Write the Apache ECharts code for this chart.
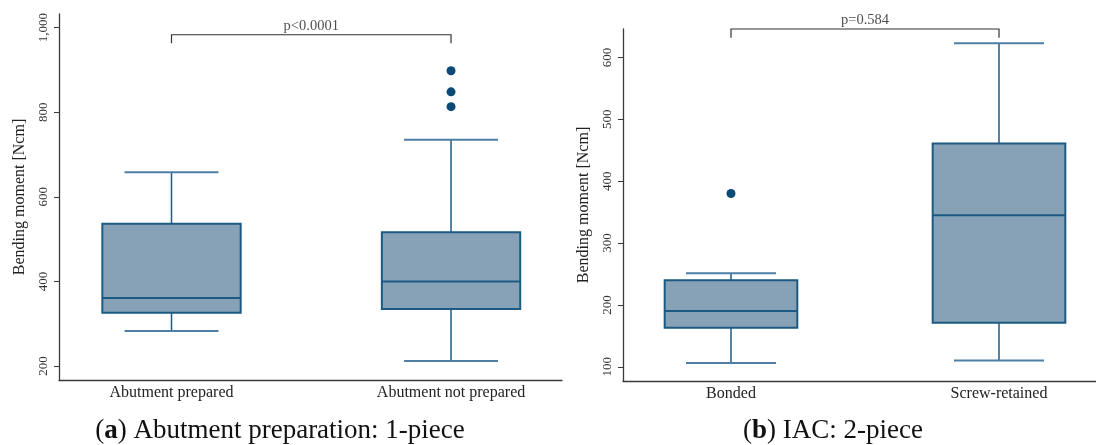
<!DOCTYPE html>
<html>
<head>
<meta charset="utf-8">
<script src="https://cdn.jsdelivr.net/npm/echarts@6/dist/echarts.min.js"></script>
<style>
  html, body { margin: 0; padding: 0; background: #fff; }
  #chart { width: 1096px; height: 445px; }
</style>
</head>
<body>
<div id="chart"></div>
<script>
// ---- data ----
const categoriesA = ['Abutment prepared', 'Abutment not prepared'];
// [min, Q1, median, Q3, max]
const boxA = [
  [283, 326, 361, 536, 658],
  [212, 335, 400, 516, 735]
];
const outliersA = [[1, 898], [1, 848], [1, 813]];
const pValueA = 'p<0.0001';
const yTicksA = [200, 400, 600, 800, 1000];

const categoriesB = ['Bonded', 'Screw-retained'];
const boxB = [
  [106, 163, 190, 240, 251],
  [110, 171, 345, 461, 623]
];
const outliersB = [[0, 380]];
const pValueB = 'p=0.584';
const yTicksB = [100, 200, 300, 400, 500, 600];

const captionA = 'Abutment preparation: 1-piece';
const captionB = 'IAC: 2-piece';
const yName = 'Bending moment [Ncm]';

// ---- styles ----
const FONT = 'Liberation Serif';
const boxFill = '#87a2b6';
const boxLine = '#1d5a83';
const capLine = '#4e7fa6';
const outColor = '#0b4a75';
const axisColor = '#3a3a3a';

function renderBox(params, api) {
  const x = api.value(0);
  const mn = api.value(1), q1 = api.value(2), md = api.value(3), q3 = api.value(4), mx = api.value(5);
  const boxW = api.size([0.495, 0])[0];
  const capW = api.size([0.336, 0])[0];
  const p = v => api.coord([x, v]);
  const cx = p(md)[0];
  const yMin = p(mn)[1], yQ1 = p(q1)[1], yMd = p(md)[1], yQ3 = p(q3)[1], yMax = p(mx)[1];
  return {
    type: 'group',
    children: [
      { type: 'line', shape: { x1: cx, y1: yQ1, x2: cx, y2: yMin }, style: { stroke: boxLine, lineWidth: 1.5 } },
      { type: 'line', shape: { x1: cx, y1: yQ3, x2: cx, y2: yMax }, style: { stroke: boxLine, lineWidth: 1.5 } },
      { type: 'line', shape: { x1: cx - capW / 2, y1: yMin, x2: cx + capW / 2, y2: yMin }, style: { stroke: capLine, lineWidth: 2 } },
      { type: 'line', shape: { x1: cx - capW / 2, y1: yMax, x2: cx + capW / 2, y2: yMax }, style: { stroke: capLine, lineWidth: 2 } },
      { type: 'rect', shape: { x: cx - boxW / 2, y: yQ3, width: boxW, height: yQ1 - yQ3 }, style: { fill: boxFill, stroke: boxLine, lineWidth: 2 } },
      { type: 'line', shape: { x1: cx - boxW / 2, y1: yMd, x2: cx + boxW / 2, y2: yMd }, style: { stroke: boxLine, lineWidth: 2 } }
    ]
  };
}

function renderBracket(params, api) {
  const a = api.coord([api.value(0), api.value(2)]);
  const b = api.coord([api.value(1), api.value(2)]);
  const aEnd = api.coord([api.value(0), api.value(3)]);
  const bEnd = api.coord([api.value(1), api.value(3)]);
  return {
    type: 'polyline',
    shape: { points: [[aEnd[0], aEnd[1]], [a[0], a[1]], [b[0], b[1]], [bEnd[0], bEnd[1]]] },
    style: { stroke: '#333', lineWidth: 1.2, fill: null }
  };
}

function boxData(arr) { return arr.map((d, i) => [i].concat(d)); }

const chart = echarts.init(document.getElementById('chart'), null, { renderer: 'canvas' });

function yAxisCfg(gridIndex, min, max, ticks) {
  return {
    type: 'value', gridIndex, min, max,
    name: yName, nameLocation: 'middle', nameRotate: 90, nameGap: 31,
    nameTextStyle: { fontFamily: FONT, fontSize: 16, color: '#222' },
    axisLine: { show: true, onZero: false, lineStyle: { color: axisColor, width: 1.3 } },
    axisTick: { show: true, length: 5, customValues: ticks, lineStyle: { color: axisColor, width: 1 } },
    axisLabel: { customValues: ticks, rotate: 90, margin: 9, fontFamily: FONT, fontSize: 13, color: '#333',
      formatter: v => v.toLocaleString('en-US') },
    splitLine: { show: false }
  };
}
function xAxisCfg(gridIndex, min, max, cats) {
  return {
    type: 'value', gridIndex, min, max,
    axisLine: { show: true, onZero: false, lineStyle: { color: axisColor, width: 1.3 } },
    axisTick: { show: false },
    axisLabel: { customValues: cats.map((c, i) => i), margin: 5, fontFamily: FONT, fontSize: 16, color: '#222',
      formatter: v => cats[Math.round(v)] },
    splitLine: { show: false }
  };
}

chart.setOption({
  animation: false,
  backgroundColor: '#fff',
  grid: [
    { left: 59, top: 14, width: 503, height: 366, outerBoundsMode: 'none', containLabel: false },
    { left: 623, top: 29, width: 484, height: 352, outerBoundsMode: 'none', containLabel: false }
  ],
  xAxis: [
    xAxisCfg(0, -0.4025, 1.397, categoriesA),
    xAxisCfg(1, -0.403, 1.403, categoriesB)
  ],
  yAxis: [
    yAxisCfg(0, 167, 1032, yTicksA),
    yAxisCfg(1, 77, 646, yTicksB)
  ],
  series: [
    { type: 'custom', xAxisIndex: 0, yAxisIndex: 0, renderItem: renderBox, data: boxData(boxA), clip: false },
    { type: 'custom', xAxisIndex: 1, yAxisIndex: 1, renderItem: renderBox, data: boxData(boxB), clip: false },
    { type: 'scatter', xAxisIndex: 0, yAxisIndex: 0, data: outliersA, symbolSize: 9, itemStyle: { color: outColor, opacity: 1 } },
    { type: 'scatter', xAxisIndex: 1, yAxisIndex: 1, data: outliersB, symbolSize: 9, itemStyle: { color: outColor, opacity: 1 } },
    { type: 'custom', xAxisIndex: 0, yAxisIndex: 0, renderItem: renderBracket, data: [[0, 1, 983, 963]], clip: false },
    { type: 'custom', xAxisIndex: 1, yAxisIndex: 1, renderItem: renderBracket, data: [[0, 1, 646, 632]], clip: false },
    { type: 'scatter', xAxisIndex: 0, yAxisIndex: 0, symbolSize: 0, data: [[0.5, 1004]], clip: false,
      label: { show: true, position: 'inside', formatter: pValueA, fontFamily: FONT, fontSize: 14.5, color: '#222' } },
    { type: 'scatter', xAxisIndex: 1, yAxisIndex: 1, symbolSize: 0, data: [[0.5, 661]], clip: false,
      label: { show: true, position: 'inside', formatter: pValueB, fontFamily: FONT, fontSize: 14.5, color: '#222' } }
  ],
  graphic: [
    { type: 'text', x: 280, y: 431,
      style: { text: '({b|a}) ' + captionA, fontFamily: FONT, fontSize: 27, fill: '#111', align: 'center', verticalAlign: 'middle',
        rich: { b: { fontWeight: 'bold', fontFamily: FONT, fontSize: 27, fill: '#111' } } } },
    { type: 'text', x: 833, y: 431,
      style: { text: '({b|b}) ' + captionB, fontFamily: FONT, fontSize: 27, fill: '#111', align: 'center', verticalAlign: 'middle',
        rich: { b: { fontWeight: 'bold', fontFamily: FONT, fontSize: 27, fill: '#111' } } } }
  ]
});
</script>
</body>
</html>
